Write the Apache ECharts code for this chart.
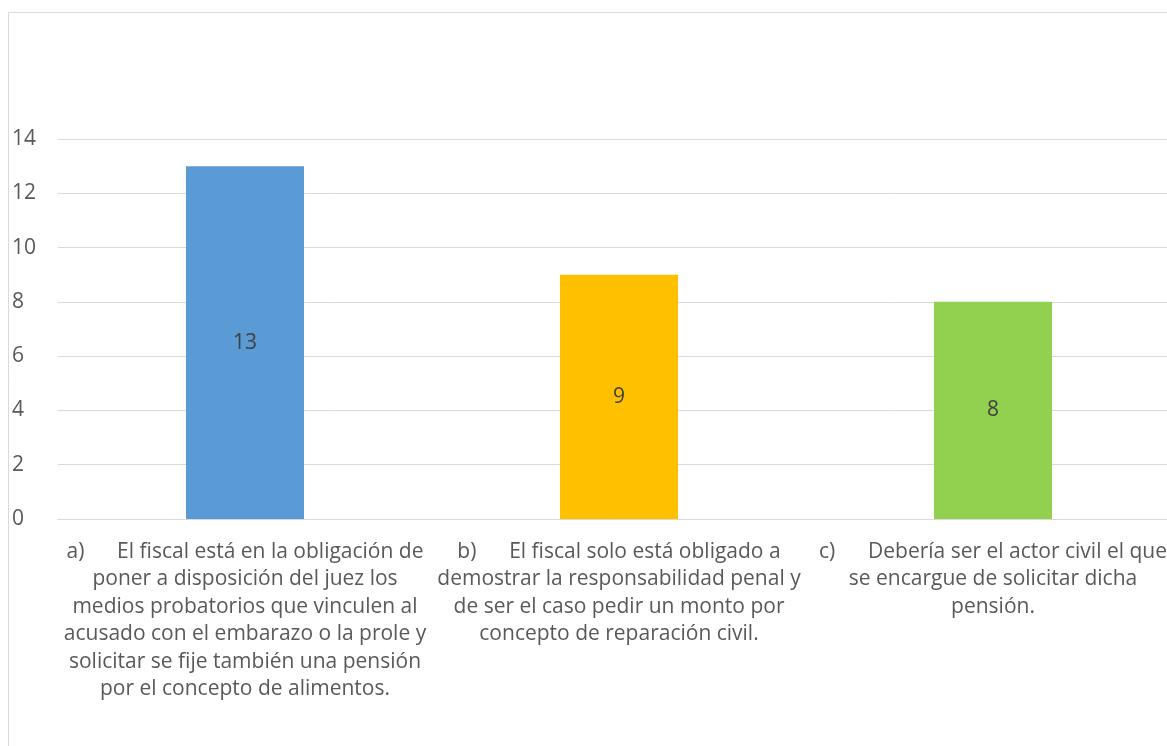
<!DOCTYPE html>
<html><head><meta charset="utf-8">
<script src="https://cdn.jsdelivr.net/npm/echarts@6/dist/echarts.min.js"></script>
<style>html,body{margin:0;padding:0;background:#fff}#c{width:1167px;height:746px}</style>
</head><body><div id="c"></div>
<script>
const categories = [
  "a)      El fiscal está en la obligación de\nponer a disposición del juez los\nmedios probatorios que vinculen al\nacusado con el embarazo o la prole y\nsolicitar se fije también una pensión\npor el concepto de alimentos.",
  "b)      El fiscal solo está obligado a\ndemostrar la responsabilidad penal y\nde ser el caso pedir un monto por\nconcepto de reparación civil.",
  "c)      Debería ser el actor civil el que\nse encargue de solicitar dicha\npensión."
];
const values = [13, 9, 8];
const colors = ["#5B9BD5", "#FFC000", "#92D050"];
const yTicks = { min: 0, max: 14, interval: 2 };

const chart = echarts.init(document.getElementById('c'), null, {renderer: 'canvas'});
chart.setOption({
  animation: false,
  graphic: [{
    type: 'rect', silent: true,
    shape: { x: 8.5, y: 12.5, width: 1200, height: 800 },
    style: { fill: 'none', stroke: '#d9d9d9', lineWidth: 1 }
  }],
  grid: { left: 58, top: 139, width: 1122, height: 380, containLabel: false, outerBoundsMode: 'none' },
  xAxis: {
    type: 'category',
    data: categories,
    axisLine: { show: true, lineStyle: { color: '#d9d9d9', width: 1 } },
    axisTick: { show: false },
    axisLabel: {
      interval: 0, margin: 19, color: '#595959',
      fontFamily: 'Open Sans', fontSize: 21, lineHeight: 27.5, align: 'center'
    }
  },
  yAxis: {
    type: 'value', min: yTicks.min, max: yTicks.max, interval: yTicks.interval,
    axisLine: { show: false }, axisTick: { show: false },
    splitLine: { lineStyle: { color: '#d9d9d9', width: 1 } },
    axisLabel: { align: 'left', margin: 46, color: '#595959', fontFamily: 'Open Sans', fontSize: 21 }
  },
  series: [{
    type: 'bar',
    data: values.map((v, i) => ({ value: v, itemStyle: { color: colors[i] } })),
    barWidth: 118,
    label: { show: true, position: 'inside', color: '#404040', fontFamily: 'Open Sans', fontSize: 21 }
  }]
});
</script></body></html>
